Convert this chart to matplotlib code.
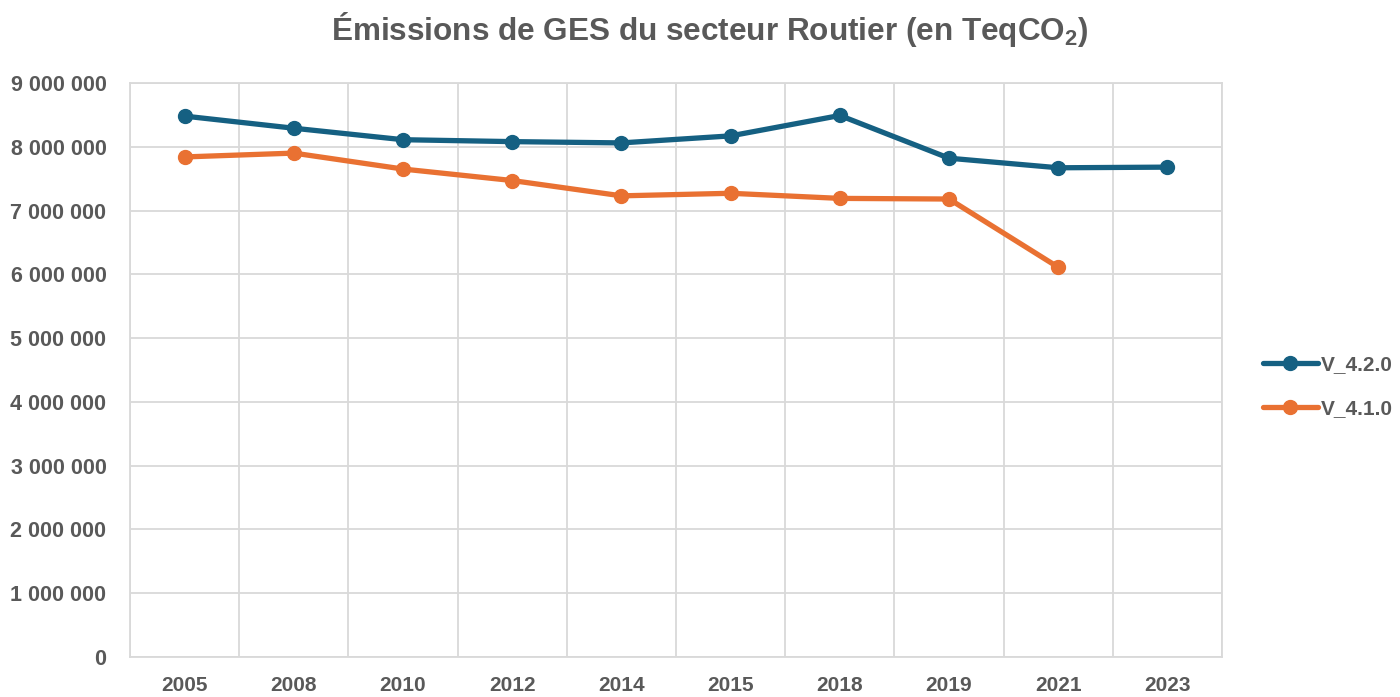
import matplotlib.pyplot as plt
from matplotlib.ticker import FuncFormatter
import numpy as np

years = ['2005', '2008', '2010', '2012', '2014', '2015', '2018', '2019', '2021', '2023']
v420 = [8480000, 8290000, 8110000, 8080000, 8060000, 8170000, 8490000, 7820000, 7670000, 7680000]
v410 = [7840000, 7900000, 7650000, 7470000, 7230000, 7270000, 7190000, 7180000, 6110000, np.nan]

txt = '#595959'
plt.rcParams['mathtext.fontset'] = 'custom'
plt.rcParams['mathtext.rm'] = 'Liberation Sans:bold'

fig = plt.figure(figsize=(14, 6.97), dpi=100)
ax = fig.add_axes([0.0929, 0.0574, 0.78, 0.8236])
x = np.arange(len(years))
ax.plot(x, v420, color='#156082', lw=3.8, marker='o', ms=10, label='V_4.2.0', solid_capstyle='round')
ax.plot(x, v410, color='#E97132', lw=3.8, marker='o', ms=10, label='V_4.1.0', solid_capstyle='round')

ax.set_xlim(-0.5, len(years) - 0.5)
ax.set_ylim(0, 9000000)
ax.set_yticks(range(0, 9000001, 1000000))
ax.yaxis.set_major_formatter(FuncFormatter(lambda v, p: f'{int(v):,}'.replace(',', ' ')))
ax.set_xticks(x)
ax.set_xticklabels(years)
ax.set_xticks(np.arange(-0.5, len(years)), minor=True)
ax.grid(True, which='major', axis='y', color='#D9D9D9', lw=1.3)
ax.grid(True, which='minor', axis='x', color='#D9D9D9', lw=1.3)
ax.tick_params(which='both', length=0)
ax.tick_params(axis='y', pad=17)
ax.tick_params(axis='x', pad=14)
for s in ax.spines.values():
    s.set_color('#D9D9D9')
    s.set_linewidth(1.3)
for lab in ax.get_xticklabels() + ax.get_yticklabels():
    lab.set_fontweight('bold')
    lab.set_color(txt)
    lab.set_fontsize(15.5)
    lab.set_family('Liberation Sans')
for lab in ax.get_xticklabels():
    lab.set_fontsize(15)

fig.text(0.507, 0.957, r'Émissions de GES du secteur Routier (en TeqCO$_{\mathrm{2}}$)',
         ha='center', va='center', fontsize=22.7, fontweight='bold', color=txt,
         family='Liberation Sans')

leg = fig.legend(loc='center left', bbox_to_anchor=(0.889, 0.445), frameon=False,
                 handlelength=2.6, labelspacing=1.2, handletextpad=0.15,
                 prop={'family': 'Liberation Sans', 'weight': 'bold', 'size': 15})
for t in leg.get_texts():
    t.set_color(txt)

plt.savefig('out.png')
plt.close()
